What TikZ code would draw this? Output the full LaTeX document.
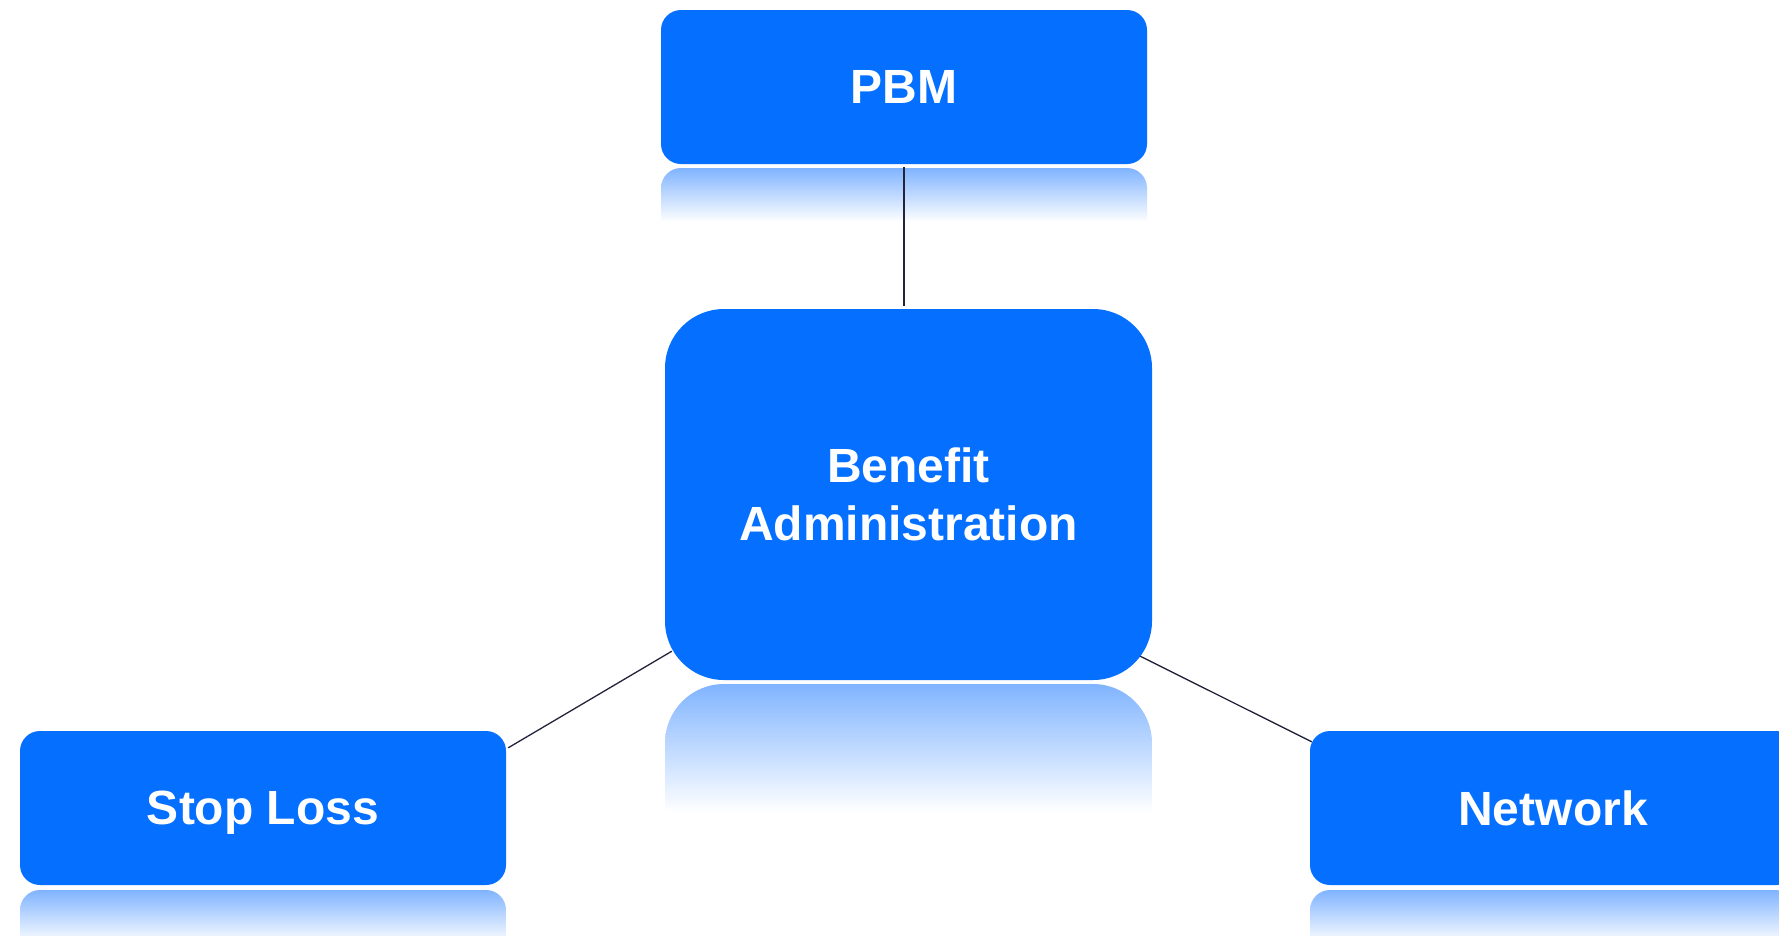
\documentclass[tikz,border=0pt]{standalone}
\usepackage{fontspec}
\setmainfont{Liberation Sans}
\usetikzlibrary{calc}
\definecolor{boxblue}{RGB}{5,111,255}
\definecolor{refl}{RGB}{128,180,255}
\definecolor{linecol}{RGB}{35,35,60}
\tikzset{
  box/.style={rectangle, fill=boxblue, text=white, inner sep=0pt,
    font=\fontsize{48}{58}\selectfont\bfseries, align=center},
  smallbox/.style={box, minimum width=486pt, minimum height=154pt, rounded corners=20pt, text depth=0pt},
  bigbox/.style={box, minimum width=487pt, minimum height=371pt, rounded corners=59pt},
  reflshade/.style={top color=refl, bottom color=white}
}
\newcommand{\reflbox}[5]{% x1, x2, ytop, ybottom, radius
  \begin{scope}
    \clip[rounded corners=#5] (#1,#3) rectangle (#2,#4+2*#5);
    \shade[reflshade] (#1,#3) rectangle (#2,#4);
  \end{scope}}
\tikzset{conn/.style={draw=linecol, line width=1.3pt}}
\begin{document}
\begin{tikzpicture}[x=1pt,y=-1pt]
\useasboundingbox[fill=white] (0,0) rectangle (1779,935);
% reflections
\reflbox{661}{1147}{168}{222}{20}
\reflbox{665}{1152}{684}{812}{59}
\reflbox{20}{506}{890}{944}{20}
\reflbox{1310}{1796}{890}{944}{20}
% nodes
\node[smallbox] (pbm) at (904,87) {PBM};
\node[bigbox] (ba) at (908.5,494.5) {Benefit\\Administration};
\node[smallbox] (sl) at (263,808) {Stop Loss};
\node[smallbox] (nw) at (1553,808) {Network};
% connectors
\draw[conn] ($(pbm.south)+(0,3)$) -- ($(pbm.south |- ba.north)+(0,-3)$);
\draw[conn] ($(ba.south west)+(7,-29)$) -- ($(sl.north east)+(2,17)$);
\draw[conn] ($(ba.south east)+(-12,-24)$) -- ($(nw.north west)+(2,11)$);
\end{tikzpicture}
\end{document}
